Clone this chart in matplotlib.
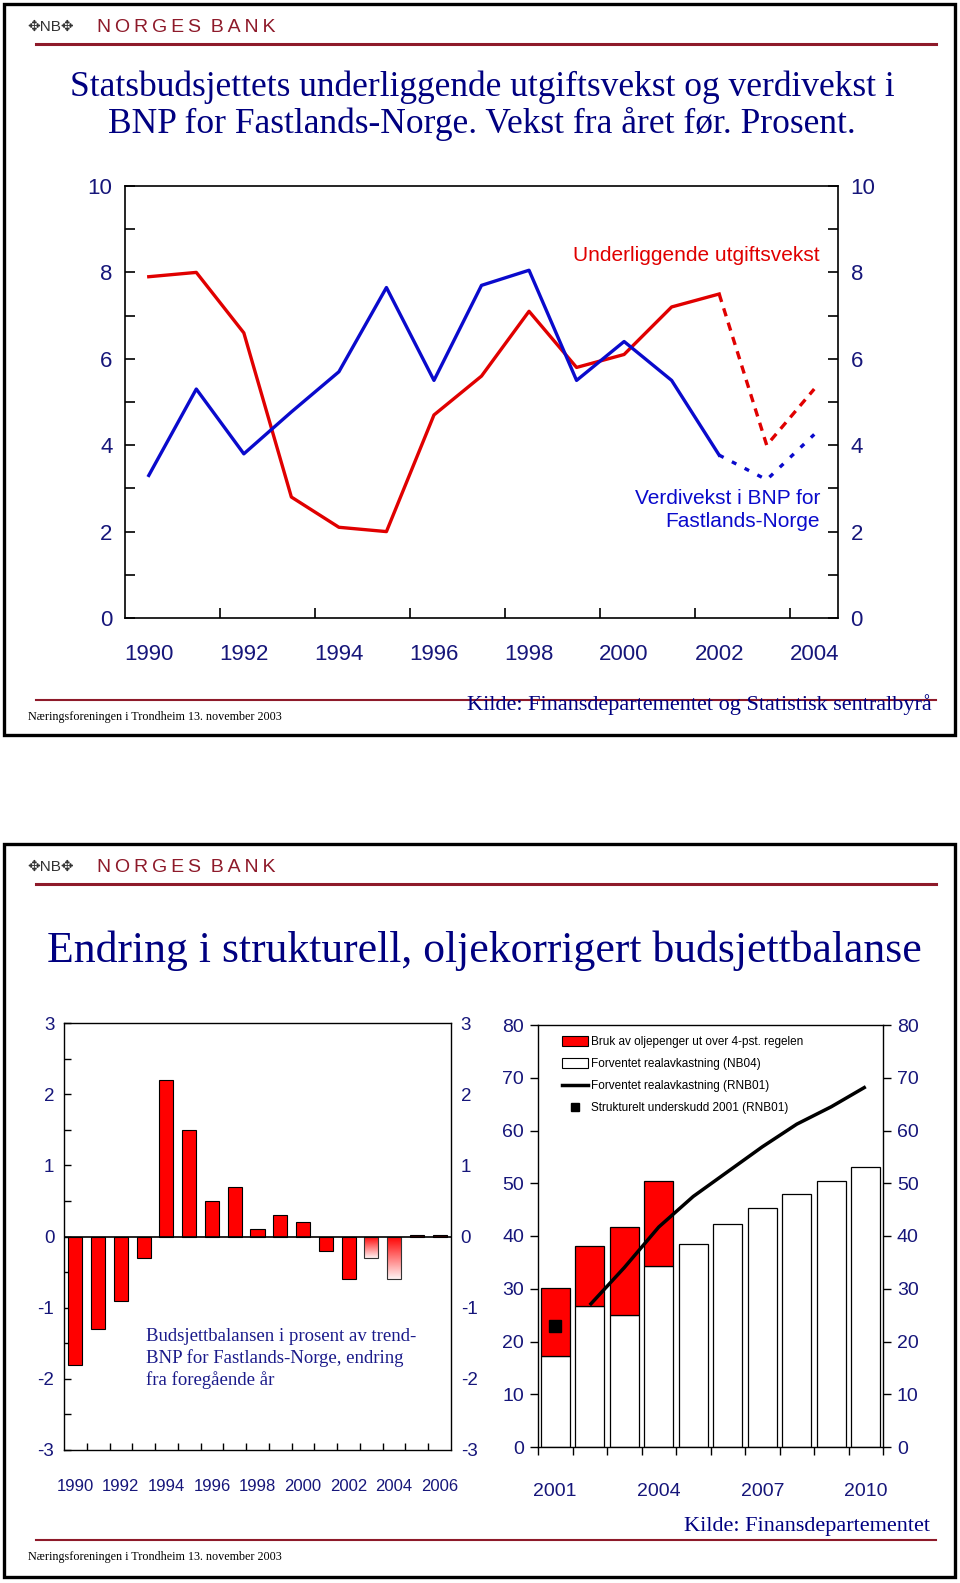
import numpy as np
import matplotlib
matplotlib.use('Agg')
import matplotlib.pyplot as plt
from matplotlib.patches import Patch, Rectangle
from matplotlib.lines import Line2D
from matplotlib.colors import LinearSegmentedColormap

plt.rcParams['axes.unicode_minus'] = False

# slide 1: vekst fra året før, prosent
years1 = np.arange(1990, 2005)
utgift = [7.9, 8.0, 6.6, 2.8, 2.1, 2.0, 4.7, 5.6, 7.1, 5.8, 6.1, 7.2, 7.5, 4.0, 5.3]
verdi = [3.3, 5.3, 3.8, 4.77, 5.7, 7.65, 5.5, 7.7, 8.05, 5.5, 6.4, 5.5, 3.77, 3.2, 4.25]
n_hist = 13  # 1990-2002 heltrukket, resten stiplet

# slide 2 venstre: endring i budsjettbalansen
years2 = np.arange(1990, 2007)
endring = [-1.8, -1.3, -0.9, -0.3, 2.2, 1.5, 0.5, 0.7, 0.1, 0.3, 0.2, -0.2, -0.6,
           -0.3, -0.6, 0.02, 0.02]
anslag = [2003, 2004]

# slide 2 hoyre: mrd. kroner
years3 = np.arange(2001, 2011)
nb04 = [17.2, 26.8, 25.1, 34.3, 38.5, 42.2, 45.3, 48.0, 50.5, 53.0]
oljepenger = [13.0, 11.3, 16.6, 16.2]
rnb01_years = np.arange(2002, 2011)
rnb01 = [26.9, 34.0, 41.7, 47.5, 52.2, 56.9, 61.2, 64.5, 68.3]
underskudd_2001 = 23.0

red = '#e00000'
blue = '#0a0acc'
navy = '#16167a'
maroon = '#8e1a2a'
serif = ['Liberation Serif', 'DejaVu Serif']
sans = ['Liberation Sans', 'DejaVu Sans']

W, H = 960, 1583
fig = plt.figure(figsize=(9.6, 15.83), dpi=100)


def rect(l, t, r, b):
    return [l / W, 1 - b / H, (r - l) / W, (b - t) / H]


# slide frames, headers, footers
bg = fig.add_axes([0, 0, 1, 1], zorder=0)
bg.set_xlim(0, W)
bg.set_ylim(H, 0)
bg.axis('off')
for top, bottom in [(4, 735), (844, 1577)]:
    bg.add_patch(Rectangle((4, top), 951, bottom - top, fill=False, lw=2.4, ec='black'))
    bg.plot([36, 936], [top + 40, top + 40], color=maroon, lw=2.2)
    bg.plot([36, 936], [top + 696, top + 696], color=maroon, lw=1.5)
    bg.text(27, top + 23, '✥NB✥', fontsize=11, va='center', ha='left',
            family=['Liberation Sans', 'DejaVu Sans'], color='#333333')
    bg.text(97, top + 23, '\u2009'.join('NORGES') + '\u2002' + '\u2009'.join('BANK'),
            fontsize=14, va='center', ha='left', family=sans, color=maroon)
    bg.text(28, top + 713, 'Næringsforeningen i Trondheim 13. november 2003',
            fontsize=8.7, va='center', ha='left', family=serif, color='black')

bg.text(482, 87, 'Statsbudsjettets underliggende utgiftsvekst og verdivekst i',
        fontsize=25.5, ha='center', va='center', family=serif, color='#000080')
bg.text(482, 124, 'BNP for Fastlands-Norge. Vekst fra året før. Prosent.',
        fontsize=25.5, ha='center', va='center', family=serif, color='#000080')
bg.text(932, 705, 'Kilde: Finansdepartementet og Statistisk sentralbyrå',
        fontsize=16, ha='right', va='center', family=serif, color='#000080')
bg.text(484, 951, 'Endring i strukturell, oljekorrigert budsjettbalanse',
        fontsize=31.5, ha='center', va='center', family=serif, color='#000080')
bg.text(930, 1527, 'Kilde: Finansdepartementet',
        fontsize=16, ha='right', va='center', family=serif, color='#000080')

# chart 1
ax1 = fig.add_axes(rect(125, 186, 838, 618), zorder=2)
ax1.plot(years1[:n_hist], utgift[:n_hist], color=red, lw=2.4)
ax1.plot(years1[n_hist - 1:], utgift[n_hist - 1:], color=red, lw=2.4, dashes=(2.5, 2))
ax1.plot(years1[:n_hist], verdi[:n_hist], color=blue, lw=2.4)
ax1.plot(years1[n_hist - 1:], verdi[n_hist - 1:], color=blue, lw=2.4, dashes=(1.5, 2.8))
ax1.set_xlim(1989.5, 2004.5)
ax1.set_ylim(0, 10)
ax1.set_xticks(np.arange(1990, 2005, 2))
ax1.set_xticks(np.arange(1991.5, 2004, 2), minor=True)
ax1.set_yticks(np.arange(0, 11, 2))
ax1.set_yticks(np.arange(1, 10, 2), minor=True)
ax1.tick_params(axis='x', which='major', length=0, pad=19, labelsize=16, labelcolor=navy)
ax1.tick_params(axis='x', which='minor', direction='in', length=7, width=1.2)
ax1.tick_params(axis='y', which='both', direction='in', length=7, width=1.2,
                left=True, right=True, labelleft=True, labelright=True,
                labelsize=16, labelcolor=navy, pad=9)
for lab in ax1.get_xticklabels() + ax1.get_yticklabels():
    lab.set_family(sans)
for s in ax1.spines.values():
    s.set_linewidth(1.2)
ax1.text(2004.12, 8.4, 'Underliggende utgiftsvekst', ha='right', va='center',
         color=red, fontsize=15, family=sans)
ax1.text(2004.12, 2.5, 'Verdivekst i BNP for\nFastlands-Norge', ha='right', va='center',
         multialignment='right', color=blue, fontsize=15, family=sans, linespacing=1.25)

# chart 2 (venstre)
ax2 = fig.add_axes(rect(64, 1023, 451, 1450), zorder=2)
fade = LinearSegmentedColormap.from_list('fade', ['#fff2f2', '#ff0000'])
bw = 0.62
for yr, v in zip(years2, endring):
    if yr in anslag:
        b = ax2.bar(yr, v, width=bw, facecolor='none', edgecolor='#333333', lw=0.8, zorder=3)
        grad = np.linspace(0, 1, 100).reshape(-1, 1)
        im = ax2.imshow(grad, cmap=fade, origin='lower', aspect='auto',
                        extent=(yr - bw / 2, yr + bw / 2, v, 0), zorder=2)
        im.set_clip_path(b.patches[0])
    else:
        ax2.bar(yr, v, width=bw, color='#ff0000', edgecolor='black', lw=0.8, zorder=3)
ax2.axhline(0, color='black', lw=1.2, zorder=4)
ax2.set_xlim(1989.5, 2006.5)
ax2.set_ylim(-3, 3)
ax2.set_xticks(np.arange(1990, 2007, 2))
ax2.set_xticks(np.arange(1990.5, 2006, 1), minor=True)
ax2.set_yticks(np.arange(-3, 4, 1))
ax2.set_yticks(np.arange(-2.5, 3, 1), minor=True)
ax2.tick_params(axis='x', which='major', length=0, pad=21, labelsize=12, labelcolor=navy)
ax2.tick_params(axis='x', which='minor', direction='in', length=5, width=1)
ax2.tick_params(axis='y', which='both', direction='in', length=5, width=1,
                left=True, right=False, labelleft=True, labelright=True,
                labelsize=13.5, labelcolor=navy, pad=7)
for lab in ax2.get_xticklabels() + ax2.get_yticklabels():
    lab.set_family(sans)
for s in ax2.spines.values():
    s.set_linewidth(1.0)
ax2.text(1993.12, -1.72,
         'Budsjettbalansen i prosent av trend-\nBNP for Fastlands-Norge, endring\nfra foregående år',
         ha='left', va='center', color='#1a1a8a', fontsize=13.5, family=serif, linespacing=1.3)

# chart 3 (hoyre)
ax3 = fig.add_axes(rect(538, 1025, 883, 1447), zorder=2)
ax3.bar(years3, nb04, width=0.84, color='white', edgecolor='black', lw=0.9)
ax3.bar(years3[:len(oljepenger)], oljepenger, bottom=nb04[:len(oljepenger)], width=0.84,
        color='#ff0000', edgecolor='black', lw=0.9)
ax3.plot(rnb01_years, rnb01, color='black', lw=2.5, solid_capstyle='butt')
ax3.plot([2001], [underskudd_2001], marker='s', color='black', ms=8.5, ls='none')
ax3.set_xlim(2000.5, 2010.5)
ax3.set_ylim(0, 80)
ax3.set_xticks([2001, 2004, 2007, 2010])
ax3.set_xticks(np.arange(2000.5, 2011, 1), minor=True)
ax3.set_yticks(np.arange(0, 81, 10))
ax3.tick_params(axis='x', which='major', length=0, pad=26, labelsize=14, labelcolor=navy)
ax3.tick_params(axis='x', which='minor', direction='out', length=6, width=1)
ax3.tick_params(axis='y', direction='out', length=6, width=1, left=True, right=True,
                labelleft=True, labelright=True, labelsize=14, labelcolor=navy, pad=4)
for lab in ax3.get_xticklabels() + ax3.get_yticklabels():
    lab.set_family(sans)
for s in ax3.spines.values():
    s.set_linewidth(1.0)
handles = [
    Patch(facecolor='#ff0000', edgecolor='black', lw=0.8),
    Patch(facecolor='white', edgecolor='black', lw=0.8),
    Line2D([], [], color='black', lw=2.5),
    Line2D([], [], color='black', marker='s', ls='none', ms=6),
]
labels = ['Bruk av oljepenger ut over 4-pst. regelen',
          'Forventet realavkastning (NB04)',
          'Forventet realavkastning (RNB01)',
          'Strukturelt underskudd 2001 (RNB01)']
ax3.legend(handles, labels, loc='upper left', bbox_to_anchor=(0.055, 0.985),
           borderaxespad=0, frameon=False, prop={'family': sans, 'size': 8.5},
           handlelength=2.2, handleheight=0.9, handletextpad=0.3, labelspacing=0.85)

fig.savefig('out.png', dpi=100)
